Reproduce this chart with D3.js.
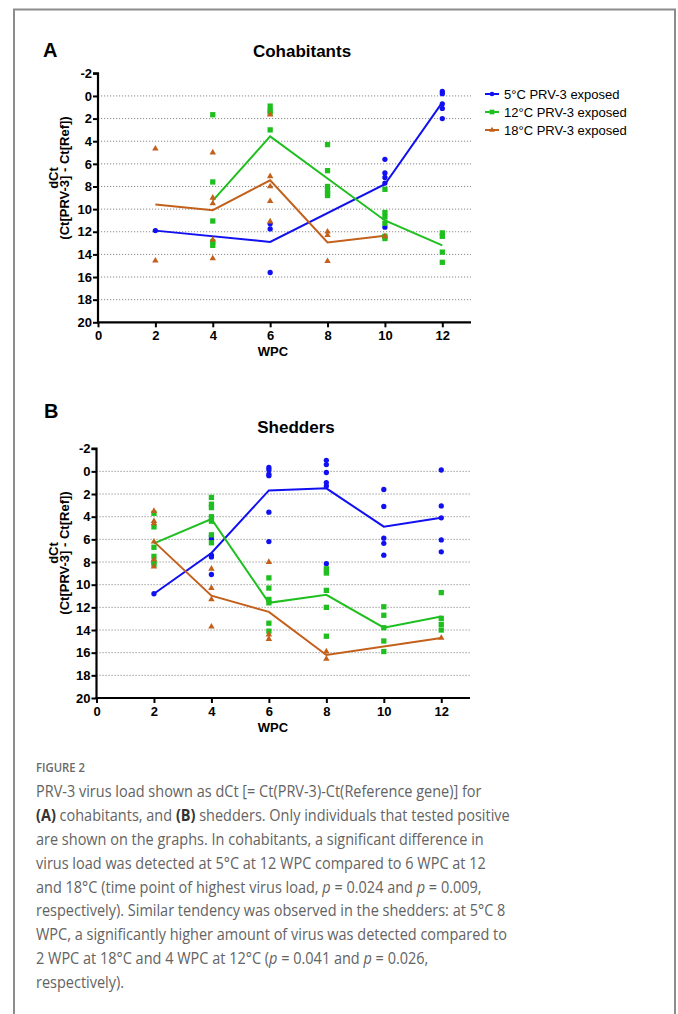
<!DOCTYPE html>
<html>
<head>
<meta charset="utf-8">
<script src="https://cdn.jsdelivr.net/npm/d3@7"></script>
<style>
  body { margin: 0; background: #fff; }
  svg { display: block; }
  .tick text { font-family: "Liberation Sans", Arial, sans-serif; font-weight: bold; font-size: 13px; fill: #000; }
</style>
</head>
<body>
<div id="chart"></div>
<script>
var svgWidth = 678;
var svgHeight = 1014;

// WPC sampling points and axis ticks
var wpc = [2, 4, 6, 8, 10, 12];
var xTicks = [0, 2, 4, 6, 8, 10, 12];
var yTicks = [-2, 0, 2, 4, 6, 8, 10, 12, 14, 16, 18, 20];
var seriesNames = ["5°C PRV-3 exposed", "12°C PRV-3 exposed", "18°C PRV-3 exposed"];

// Cohabitants: individual dCt values per WPC, and the group means (line)
var coh5 = [[11.9], [], [11.3, 11.75, 15.6], [], [5.6, 6.8, 7.2, 7.7, 11.6], [-0.4, -0.2, 0.7, 1.1, 2.0]];
var coh5Mean = [11.9, null, 12.9, null, 7.8, 0.57];
var coh12 = [[], [1.66, 7.6, 11.05, 12.9, 13.2], [0.9, 1.3, 1.5, 3.0], [4.3, 6.6, 8.0, 8.3, 8.6, 8.8], [8.25, 10.3, 10.7, 11.25, 12.4, 12.6], [12.1, 12.4, 13.8, 14.7]];
var coh12Mean = [null, 9.25, 3.57, 7.3, 11.0, 13.2];
var coh18 = [[4.66, 14.55], [5.0, 9.0, 9.5, 12.7, 14.35], [1.65, 7.1, 8.0, 9.3, 11.1], [12.0, 12.3, 14.6], [12.4], []];
var coh18Mean = [9.6, 10.1, 7.45, 12.95, 12.35, null];

// Shedders
var she5 = [[10.8], [5.7, 5.95, 7.4, 7.55, 9.1], [-0.35, -0.15, 0.24, 0.38, 3.6, 6.2], [-0.97, -0.6, 0.1, 1.0, 1.3, 8.15], [1.6, 3.1, 5.9, 6.35, 7.4], [-0.12, 3.05, 4.1, 6.05, 7.1]];
var she5Mean = [10.8, 7.2, 1.68, 1.5, 4.88, 4.1];
var she12 = [[3.7, 4.9, 6.7, 7.5, 8.0, 8.2], [2.3, 2.9, 3.2, 4.0, 4.4, 5.6, 6.3], [9.4, 10.3, 11.3, 11.6, 13.4, 14.1], [8.6, 8.97, 10.5, 12.0, 14.55], [11.95, 12.7, 13.8, 14.97, 15.9], [10.7, 12.97, 13.5, 14.0]];
var she12Mean = [6.35, 4.2, 11.6, 10.9, 13.8, 12.8];
var she18 = [[3.5, 4.4, 4.6, 6.2, 7.8, 8.4], [8.6, 10.3, 11.3, 13.7], [8.0, 14.4, 14.8], [15.9, 16.55], [], [14.7]];
var she18Mean = [6.2, 10.97, 12.4, 16.2, null, 14.7];

var colors = ["#1010f0", "#1fbf1f", "#c2601c"];
var symbols = [d3.symbolCircle, d3.symbolSquare, d3.symbolTriangle];
var symSizes = [22, 28, 18];

var svg = d3.select("#chart")
    .append("svg")
    .attr("width", svgWidth)
    .attr("height", svgHeight);

svg.append("rect").attr("width", svgWidth).attr("height", svgHeight).attr("fill", "#fff");

// figure frame (open at the bottom)
svg.append("path")
    .attr("d", "M14,1014 V9.5 H675 V1014")
    .attr("fill", "none")
    .attr("stroke", "#8c8c8c")
    .attr("stroke-width", 2);

function drawPanel(p) {
    var x = d3.scaleLinear().domain([0, 13]).range([p.left, p.right]);
    var y = d3.scaleLinear().domain([-2, 20]).range([p.top, p.bottom]);
    var g = svg.append("g");

    // dotted grid
    g.append("g").selectAll("line")
        .data(yTicks.filter(d => d > -2 && d < 20))
        .enter().append("line")
        .attr("x1", p.left).attr("x2", p.right)
        .attr("y1", d => y(d)).attr("y2", d => y(d))
        .attr("stroke", "#8a8a8a")
        .attr("stroke-width", 1)
        .attr("stroke-dasharray", "1.2,1.8");

    var yAxis = g.append("g")
        .attr("transform", `translate(${p.left},0)`)
        .call(d3.axisLeft(y).tickValues(yTicks).tickFormat(d => String(d)).tickSize(5).tickPadding(1));
    var xAxis = g.append("g")
        .attr("transform", `translate(0,${p.bottom})`)
        .call(d3.axisBottom(x).tickValues(xTicks).tickFormat(d => String(d)).tickSize(5).tickPadding(2));
    [xAxis, yAxis].forEach(function (a) {
        a.select(".domain").attr("stroke", "#000").attr("stroke-width", 2.2);
        a.selectAll(".tick line").attr("stroke", "#000").attr("stroke-width", 2);
    });
    yAxis.select(".domain").attr("d", `M-5,${p.top}H0V${p.bottom}`);
    xAxis.select(".domain").attr("d", `M${p.left - 1},0H${p.right}`);
    xAxis.selectAll(".tick text").attr("dy", "0.85em");

    // mean lines
    p.means.forEach(function (m, i) {
        var pts = wpc.map((w, j) => [w, m[j]]).filter(d => d[1] !== null);
        g.append("path")
            .datum(pts)
            .attr("fill", "none")
            .attr("stroke", colors[i])
            .attr("stroke-width", 2)
            .attr("d", d3.line().x(d => x(d[0])).y(d => y(d[1])));
    });

    // individual points
    p.points.forEach(function (s, i) {
        var pts = [];
        s.forEach((vals, j) => vals.forEach(v => pts.push([wpc[j], v])));
        g.append("g").selectAll("path")
            .data(pts)
            .enter().append("path")
            .attr("transform", d => `translate(${x(d[0])},${y(d[1])})`)
            .attr("d", d3.symbol().type(symbols[i]).size(symSizes[i]))
            .attr("fill", colors[i]);
    });

    // titles and axis labels
    g.append("text")
        .attr("x", p.letterX).attr("y", p.letterY)
        .attr("font-family", "Liberation Sans, Arial, sans-serif")
        .attr("font-weight", "bold").attr("font-size", 20)
        .text(p.letter);
    g.append("text")
        .attr("x", p.titleX).attr("y", p.titleY)
        .attr("text-anchor", "middle")
        .attr("font-family", "Liberation Sans, Arial, sans-serif")
        .attr("font-weight", "bold").attr("font-size", 17)
        .text(p.title);
    var yl = g.append("text")
        .attr("transform", `translate(0,${p.ylabelY}) rotate(-90)`)
        .attr("text-anchor", "middle")
        .attr("font-family", "Liberation Sans, Arial, sans-serif")
        .attr("font-weight", "bold").attr("font-size", 13);
    yl.append("tspan").attr("x", 0).attr("y", 58).text("dCt");
    yl.append("tspan").attr("x", 0).attr("y", 69).text("(Ct[PRV-3] - Ct[Ref])");
    g.append("text")
        .attr("x", 273).attr("y", p.bottom + 33.5)
        .attr("text-anchor", "middle")
        .attr("font-family", "Liberation Sans, Arial, sans-serif")
        .attr("font-weight", "bold").attr("font-size", 13)
        .text("WPC");
}

drawPanel({
    left: 98, right: 471, top: 73.3, bottom: 322.3,
    letter: "A", letterX: 43, letterY: 57,
    title: "Cohabitants", titleX: 302, titleY: 57,
    ylabelY: 178,
    points: [coh5, coh12, coh18], means: [coh5Mean, coh12Mean, coh18Mean]
});
drawPanel({
    left: 96.5, right: 470, top: 448.7, bottom: 698,
    letter: "B", letterX: 44, letterY: 418,
    title: "Shedders", titleX: 296, titleY: 433,
    ylabelY: 553,
    points: [she5, she12, she18], means: [she5Mean, she12Mean, she18Mean]
});

// legend
var legend = svg.append("g").selectAll("g")
    .data(seriesNames)
    .enter().append("g")
    .attr("transform", (d, i) => `translate(485,${94 + i * 18})`);
legend.append("line")
    .attr("x1", 0).attr("x2", 14)
    .attr("stroke", (d, i) => colors[i]).attr("stroke-width", 2);
legend.append("path")
    .attr("transform", "translate(7,0)")
    .attr("d", (d, i) => d3.symbol().type(symbols[i]).size(symSizes[i] * 0.8)())
    .attr("fill", (d, i) => colors[i]);
legend.append("text")
    .attr("x", 19).attr("y", 4.5)
    .attr("font-family", "Liberation Sans, Arial, sans-serif")
    .attr("font-size", 13)
    .text(d => d);

// caption: narrow the font horizontally to match the reference's condensed face
var capFont = "Open Sans, sans-serif";

var figLabel = svg.append("g");
var figText = figLabel.append("text")
    .attr("font-family", capFont)
    .attr("font-weight", 600).attr("font-size", 13)
    .attr("fill", "#6a6a6a")
    .text("FIGURE 2");
var figW = figText.node().getComputedTextLength();
figLabel.attr("transform", `translate(36,772) scale(${49 / figW},1)`);

var captionLines = [
    [["PRV-3 virus load shown as dCt [= Ct(PRV-3)-Ct(Reference gene)] for", ""]],
    [["(A)", "b"], [" cohabitants, and ", ""], ["(B)", "b"], [" shedders. Only individuals that tested positive", ""]],
    [["are shown on the graphs. In cohabitants, a significant difference in", ""]],
    [["virus load was detected at 5°C at 12 WPC compared to 6 WPC at 12", ""]],
    [["and 18°C (time point of highest virus load, ", ""], ["p", "i"], [" = 0.024 and ", ""], ["p", "i"], [" = 0.009,", ""]],
    [["respectively). Similar tendency was observed in the shedders: at 5°C 8", ""]],
    [["WPC, a significantly higher amount of virus was detected compared to", ""]],
    [["2 WPC at 18°C and 4 WPC at 12°C (", ""], ["p", "i"], [" = 0.041 and ", ""], ["p", "i"], [" = 0.026,", ""]],
    [["respectively).", ""]]
];

var caption = svg.append("g");
captionLines.forEach(function (line, i) {
    var t = caption.append("text")
        .attr("x", 0).attr("y", 797 + i * 23.9)
        .attr("font-family", capFont)
        .attr("font-size", 16)
        .attr("fill", "#636363");
    line.forEach(function (seg) {
        t.append("tspan")
            .attr("font-weight", seg[1] === "b" ? "bold" : null)
            .attr("font-style", seg[1] === "i" ? "italic" : null)
            .attr("fill", seg[1] === "b" ? "#333" : null)
            .text(seg[0]);
    });
});
// first line is 446 px wide in the reference
var firstW = caption.select("text").node().getComputedTextLength();
caption.attr("transform", `translate(36,0) scale(${446 / firstW},1)`);
</script>
</body>
</html>
